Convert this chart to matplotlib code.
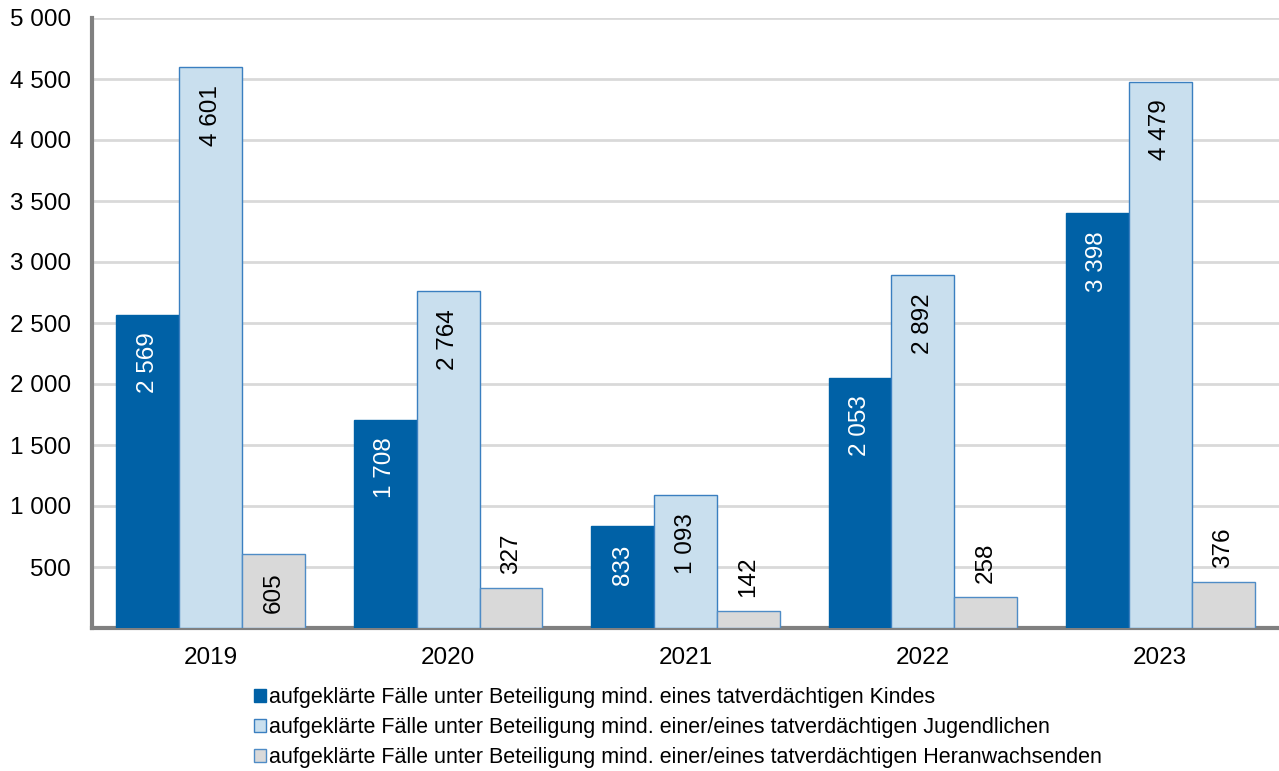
import numpy as np
import matplotlib.pyplot as plt
from matplotlib.ticker import FuncFormatter

plt.rcParams['font.family'] = ['Liberation Sans', 'DejaVu Sans']

jahre = ['2019', '2020', '2021', '2022', '2023']
kinder = [2569, 1708, 833, 2053, 3398]
jugendliche = [4601, 2764, 1093, 2892, 4479]
heranwachsende = [605, 327, 142, 258, 376]

namen = ['aufgeklärte Fälle unter Beteiligung mind. eines tatverdächtigen Kindes',
         'aufgeklärte Fälle unter Beteiligung mind. einer/eines tatverdächtigen Jugendlichen',
         'aufgeklärte Fälle unter Beteiligung mind. einer/eines tatverdächtigen Heranwachsenden']
farben = ['#0061A6', '#C9DFEE', '#D9D9D9']
kanten = ['#0061A6', '#3A7FC0', '#4F8CC6']
textfarben = ['white', 'black', 'black']


def tausender(v, pos=None):
    return f'{int(v):,}'.replace(',', ' ')


fig = plt.figure(figsize=(12.79, 7.71), dpi=100)
ax = fig.add_axes([92 / 1279, 1 - 628 / 771, 1 - 92 / 1279, (628 - 18) / 771])

x = np.arange(len(jahre))
breite = 0.265
reihen = [kinder, jugendliche, heranwachsende]
handles = []
for k, werte in enumerate(reihen):
    pos = x + (k - 1) * breite
    b = ax.bar(pos, werte, breite, color=farben[k], edgecolor=kanten[k],
               linewidth=1.0, zorder=3, label=namen[k])
    handles.append(b)
    for xp, w in zip(pos, werte):
        if w >= 500:
            # Wert innen am Balkenende
            ax.annotate(tausender(w), (xp, w), xytext=(0, -13), textcoords='offset points',
                        rotation=90, ha='center', va='top', fontsize=17.5,
                        color=textfarben[k], zorder=4)
        else:
            # kurze Balken: Wert oberhalb
            ax.annotate(tausender(w), (xp, w), xytext=(0, 10), textcoords='offset points',
                        rotation=90, ha='center', va='bottom', fontsize=17.5,
                        color='black', zorder=4)

ax.set_xlim(-0.5, len(jahre) - 0.5)
ax.set_ylim(0, 5000)
ax.set_yticks(np.arange(500, 5001, 500))
ax.yaxis.set_major_formatter(FuncFormatter(tausender))
ax.set_xticks(x)
ax.set_xticklabels(jahre)
ax.tick_params(axis='both', length=0, labelsize=17.5, colors='black')
ax.tick_params(axis='y', pad=15)
ax.tick_params(axis='x', pad=14)
ax.grid(axis='y', color='#D9D9D9', linewidth=2, zorder=0)

for s in ['top', 'right']:
    ax.spines[s].set_visible(False)
for s in ['left', 'bottom']:
    ax.spines[s].set_color('#808080')
    ax.spines[s].set_linewidth(3)

fig.legend(handles=handles, loc='upper left', bbox_to_anchor=(254 / 1279, 1 - 687 / 771),
           frameon=False, fontsize=15.5, handlelength=0.55, handleheight=0.55,
           handletextpad=0.15, labelspacing=0.42, borderpad=0, borderaxespad=0)

fig.savefig('out.png', dpi=100)
